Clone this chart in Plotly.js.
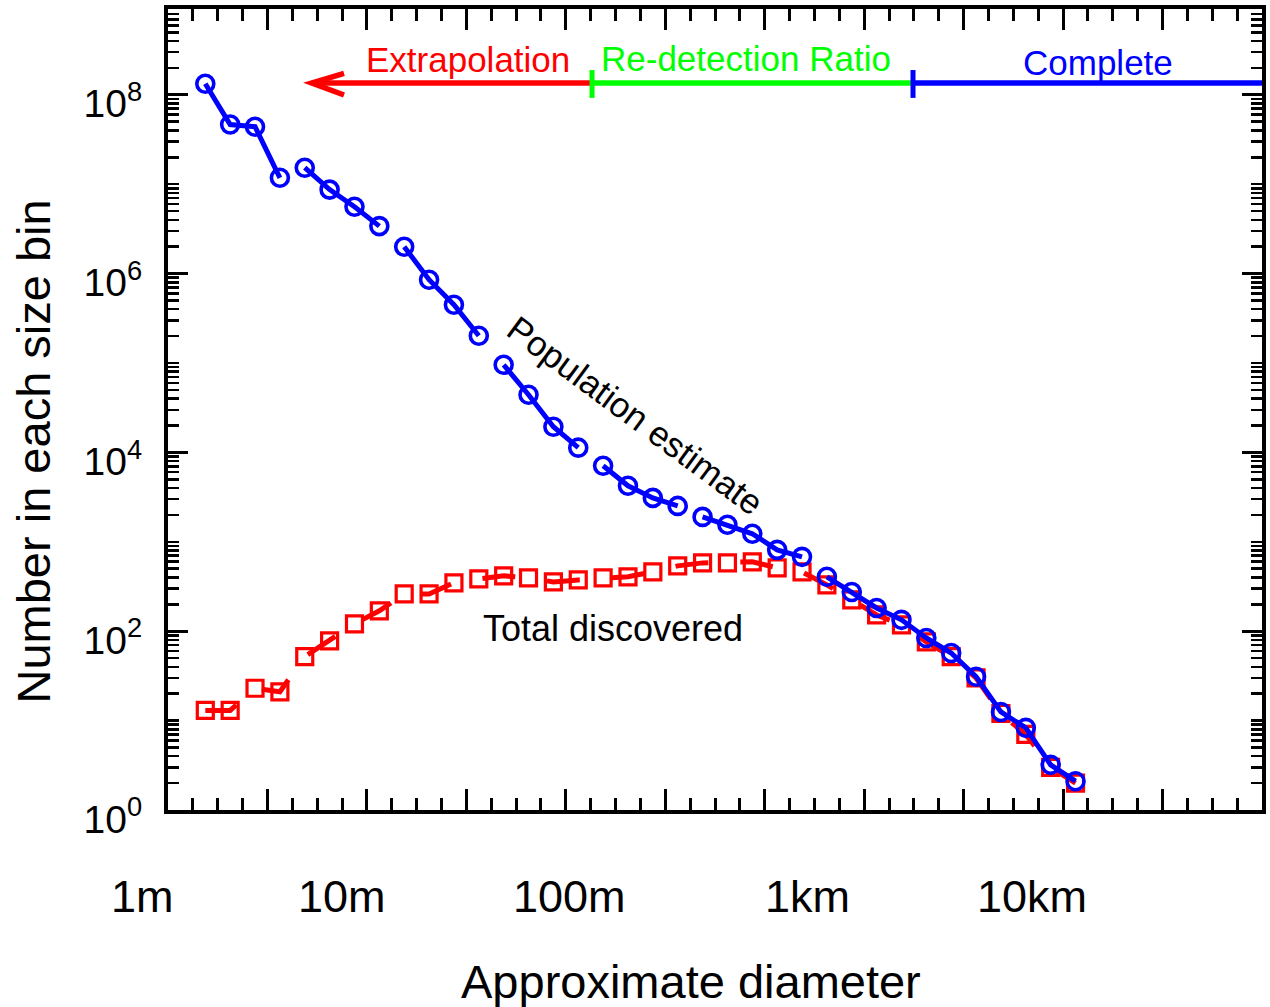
<!DOCTYPE html>
<html><head><meta charset="utf-8">
<script src="https://cdn.plot.ly/plotly-3.0.1.min.js"></script>
<style>html,body{margin:0;padding:0;background:#fff;} #chart{width:1270px;height:1007px;}</style>
</head><body><div id="chart"></div>
<script>
// Absolute-magnitude bin centres (0.5 mag bins), faint (small) on the left
const hBin = [29.25, 28.75, 28.25, 27.75, 27.25, 26.75, 26.25, 25.75, 25.25, 24.75,
              24.25, 23.75, 23.25, 22.75, 22.25, 21.75, 21.25, 20.75, 20.25, 19.75,
              19.25, 18.75, 18.25, 17.75, 17.25, 16.75, 16.25, 15.75, 15.25, 14.75,
              14.25, 13.75, 13.25, 12.75, 12.25, 11.75];
const populationEstimate = [1.33e8, 4.65e7, 4.4e7, 1.18e7, 1.53e7, 8.7e6, 5.6e6, 3.4e6, 2.0e6, 8.55e5,
              4.49e5, 2.02e5, 9.55e4, 4.42e4, 1.94e4, 1.13e4, 7080, 4230, 3100, 2520,
              1900, 1550, 1230, 813, 679, 406, 275, 182, 134, 84,
              57, 31, 12.5, 8.3, 3.2, 2.1];
const totalDiscovered = [13, 13, 23, 21, 52, 78, 121, 169, 261, 261,
              348, 385, 416, 395, 356, 375, 395, 406, 461, 538,
              581, 581, 597, 511, 461, 330, 224, 152, 118, 76,
              52, 30, 12, 7, 3, 2];
// indices where a new population-estimate line segment begins
const popSegmentStarts = [0, 4, 8, 12, 16, 20, 25];
const yTickVals = [1, 1e2, 1e4, 1e6, 1e8];
const yTickText = ['10<sup>0</sup>', '10<sup>2</sup>', '10<sup>4</sup>', '10<sup>6</sup>', '10<sup>8</sup>'];
const diameterLabels = ['1m', '10m', '100m', '1km', '10km'];
const diameterLabelPos = [-0.0229, 0.1594, 0.3672, 0.5850, 0.7895]; // paper fraction
const regionLabels = ['Extrapolation', 'Re-detection Ratio', 'Complete'];

const BLUE = '#0000ff', RED = '#ff0000', GREEN = '#00ff00';

const lineX = [], lineY = [];
for (let i = 0; i < hBin.length; i++) {
  if (i > 0 && popSegmentStarts.includes(i)) { lineX.push(null); lineY.push(null); }
  lineX.push(hBin[i]); lineY.push(populationEstimate[i]);
}

const traces = [
  {x: hBin, y: totalDiscovered, type: 'scatter', mode: 'lines+markers',
   line: {color: RED, width: 5, dash: '33px,32px'},
   marker: {symbol: 'square-open', size: 16, color: RED, line: {width: 3.2, color: RED}},
   hoverinfo: 'skip'},
  {x: lineX, y: lineY, type: 'scatter', mode: 'lines', connectgaps: false,
   line: {color: BLUE, width: 5}, hoverinfo: 'skip'},
  {x: hBin, y: populationEstimate, type: 'scatter', mode: 'markers',
   marker: {symbol: 'circle-open', size: 17, color: BLUE, line: {width: 3.6, color: BLUE}},
   hoverinfo: 'skip'}
];

const FONT = '"Liberation Sans", Arial, Helvetica, sans-serif';
const annotations = [];
diameterLabels.forEach((t, i) => annotations.push({
  text: t, xref: 'paper', yref: 'paper', x: diameterLabelPos[i], y: -0.1074,
  xanchor: 'center', yanchor: 'middle', showarrow: false, font: {size: 45, color: '#000'}
}));
annotations.push({text: 'Approximate diameter', xref: 'paper', yref: 'paper', x: 0.478, y: -0.2141,
  xanchor: 'center', yanchor: 'middle', showarrow: false, font: {size: 47, color: '#000'}});
annotations.push({text: 'Number in each size bin', xref: 'paper', yref: 'paper', x: -0.1229, y: 0.447,
  xanchor: 'center', yanchor: 'middle', textangle: -90, showarrow: false, font: {size: 47, color: '#000'}});
annotations.push({text: regionLabels[0], xref: 'paper', yref: 'paper', x: 0.2742, y: 0.9370,
  xanchor: 'center', yanchor: 'middle', showarrow: false, font: {size: 35, color: RED}});
annotations.push({text: regionLabels[1], xref: 'paper', yref: 'paper', x: 0.5283, y: 0.9385,
  xanchor: 'center', yanchor: 'middle', showarrow: false, font: {size: 35, color: GREEN}});
annotations.push({text: regionLabels[2], xref: 'paper', yref: 'paper', x: 0.8501, y: 0.9328,
  xanchor: 'center', yanchor: 'middle', showarrow: false, font: {size: 35, color: BLUE}});
annotations.push({text: 'Population estimate', xref: 'paper', yref: 'paper', x: 0.4275, y: 0.4931,
  xanchor: 'center', yanchor: 'middle', textangle: 36.5, showarrow: false, font: {size: 35, color: '#000'}});
annotations.push({text: 'Total discovered', xref: 'paper', yref: 'paper', x: 0.4065, y: 0.2272,
  xanchor: 'center', yanchor: 'middle', showarrow: false, font: {size: 36, color: '#000'}});

const yL = 0.9076, tkLo = 0.889, tkHi = 0.9238;
const xRedTip = 0.1314, xRG = 0.3876, xGB = 0.6810;
const shapes = [
  {type: 'line', xref: 'paper', yref: 'paper', x0: xRedTip, x1: xRG, y0: yL, y1: yL, line: {color: RED, width: 5.5}},
  {type: 'path', xref: 'paper', yref: 'paper', path: `M 0.1609 0.9197 L ${xRedTip} ${yL} L 0.1609 0.8926`, line: {color: RED, width: 5.5}},
  {type: 'line', xref: 'paper', yref: 'paper', x0: xRG, x1: xGB, y0: yL, y1: yL, line: {color: GREEN, width: 5.5}},
  {type: 'line', xref: 'paper', yref: 'paper', x0: xRG, x1: xRG, y0: tkLo, y1: tkHi, line: {color: GREEN, width: 5}},
  {type: 'line', xref: 'paper', yref: 'paper', x0: xGB, x1: 1.0, y0: yL, y1: yL, line: {color: BLUE, width: 5.5}},
  {type: 'line', xref: 'paper', yref: 'paper', x0: xGB, x1: xGB, y0: tkLo, y1: tkHi, line: {color: BLUE, width: 5}}
];

const layout = {
  width: 1270, height: 1007,
  margin: {l: 168, r: 8, t: 9, b: 197, pad: 0},
  paper_bgcolor: '#ffffff', plot_bgcolor: '#ffffff',
  showlegend: false,
  font: {family: FONT, color: '#000'},
  xaxis: {
    range: [30, 8], tickmode: 'linear', tick0: 8, dtick: 2,
    ticks: 'inside', ticklen: 21, tickwidth: 3, tickcolor: '#000',
    showline: true, linewidth: 4, linecolor: '#000', mirror: 'ticks',
    showgrid: false, zeroline: false, showticklabels: false,
    minor: {tickmode: 'linear', tick0: 8, dtick: 0.5, ticks: 'inside', ticklen: 12, tickwidth: 3, tickcolor: '#000', showgrid: false}
  },
  yaxis: {
    type: 'log', range: [0, 8.96], tickmode: 'array', tickvals: yTickVals, ticktext: yTickText,
    ticks: 'inside', ticklen: 20, tickwidth: 3, tickcolor: '#000',
    showline: true, linewidth: 4, linecolor: '#000', mirror: 'ticks',
    showgrid: false, zeroline: false,
    tickfont: {size: 39, color: '#000'}, ticklabelstandoff: 14, ticklabelshift: 9,
    minor: {dtick: 'D1', ticks: 'inside', ticklen: 11, tickwidth: 2.5, tickcolor: '#000', showgrid: false}
  },
  annotations: annotations,
  shapes: shapes
};

Plotly.newPlot('chart', traces, layout, {staticPlot: true, displayModeBar: false});
</script>
</body></html>
